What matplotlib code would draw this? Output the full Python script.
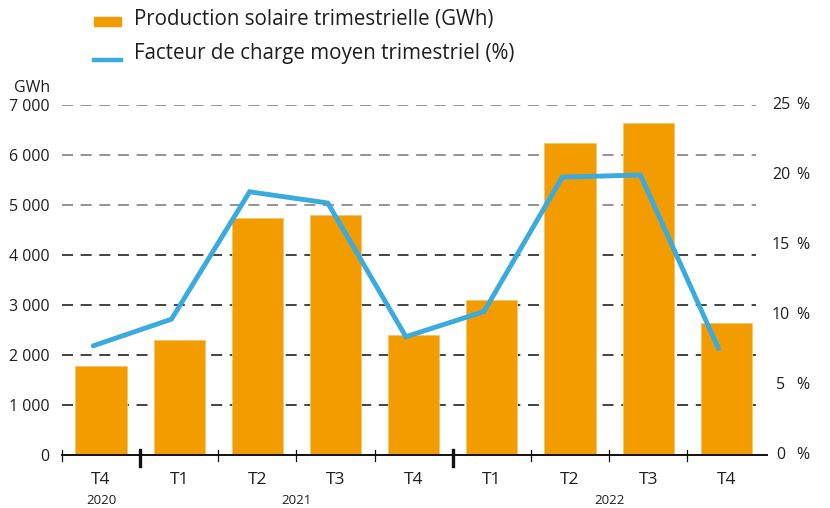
import matplotlib
matplotlib.use("Agg")
import matplotlib.pyplot as plt
from matplotlib.lines import Line2D
from matplotlib.patches import Rectangle
import matplotlib.transforms as mtransforms

# Quarterly data
quarters = ["T4", "T1", "T2", "T3", "T4", "T1", "T2", "T3", "T4"]
years = ["2020", "2021", "2022"]
year_groups = [(0, 0), (1, 4), (5, 8)]
production_gwh = [1790, 2300, 4750, 4810, 2410, 3110, 6250, 6650, 2650]
load_factor_pct = [7.8, 9.7, 18.8, 18.0, 8.45, 10.25, 19.85, 20.0, 7.6]

left_ticks = [0, 1000, 2000, 3000, 4000, 5000, 6000, 7000]
left_labels = ["0", "1 000", "2 000", "3 000", "4 000", "5 000", "6 000", "7 000"]
right_ticks = [0, 5, 10, 15, 20, 25]

ORANGE = "#F39C00"
BLUE = "#3AAADF"
TEXT = "#1E1E1E"

plt.rcParams["font.family"] = ["Open Sans", "DejaVu Sans"]

W, H = 830, 508
fig = plt.figure(figsize=(W / 100, H / 100), dpi=100)

def fx(px):
    return px / W

def fy(py):
    return 1 - py / H

ax = fig.add_axes([fx(62), fy(455), fx(767) - fx(62), fy(105) - fy(455)])
ax2 = ax.twinx()

x = list(range(len(quarters)))
ax.bar(x, production_gwh, width=0.655, color=ORANGE, edgecolor="#F7C46A",
       linewidth=0.6, zorder=2)

ax.set_xlim(-0.5, 8.52)
ax.set_ylim(0, 7000)
ax2.set_ylim(0, 25)

# dashed grid lines
for v in left_ticks[1:]:
    col = "#777777" if v >= 5000 else "#111111"
    ax.axhline(v, xmax=0.985, color=col, lw=1.1, ls=(0, (7.2, 5.0)), zorder=1)

# baseline
ax.axhline(0, color="#111111", lw=1.4, zorder=3, clip_on=False)

# load factor line (right axis)
xl = [i - 0.1 for i in x]
ax2.plot(xl, load_factor_pct, color=BLUE, lw=3.5, solid_joinstyle="miter",
         solid_capstyle="round", zorder=4)

for a in (ax, ax2):
    for s in a.spines.values():
        s.set_visible(False)

ax.set_yticks(left_ticks)
ax.set_yticklabels(left_labels)
ax.tick_params(axis="y", length=0, pad=9, labelsize=11.5, labelcolor=TEXT)
ax2.set_yticks(right_ticks)
ax2.set_yticklabels([])
ax2.tick_params(axis="y", length=0)

tr2 = mtransforms.blended_transform_factory(fig.transFigure, ax2.transData)
for v in right_ticks:
    ax2.text(fx(781), v, str(v), transform=tr2, ha="center", va="center",
             fontsize=11.5, color=TEXT)
    ax2.text(fx(803), v, "%", transform=tr2, ha="center", va="center",
             fontsize=11.5, color=TEXT)

# category ticks and labels
ax.set_xticks(x)
ax.set_xticklabels(quarters)
ax.tick_params(axis="x", length=0, pad=12, labelsize=12.5, labelcolor=TEXT)

trx = mtransforms.blended_transform_factory(ax.transData, ax.transAxes)
for b in [-0.5, 1.5, 2.5, 3.5, 5.5, 6.5, 7.5]:
    ax.add_line(Line2D([b, b], [-0.017, 0.014], transform=trx, color="#111111",
                       lw=0.9, clip_on=False, zorder=3))
for b in [0.5, 4.5]:
    ax.add_line(Line2D([b, b], [-0.03, 0.014], transform=trx, color="#111111",
                       lw=2.4, clip_on=False, zorder=3))

for yr, (a, b) in zip(years, year_groups):
    ax.text((a + b) / 2, fy(500), yr,
            transform=mtransforms.blended_transform_factory(ax.transData, fig.transFigure),
            ha="center", va="center", fontsize=9.5, color=TEXT)

fig.text(fx(32), fy(88), "GWh", ha="center", va="center", fontsize=11.5, color=TEXT)

# legend
fig.patches.append(Rectangle((fx(94), fy(26)), fx(121) - fx(94), fy(17) - fy(26),
                             transform=fig.transFigure, color=ORANGE))
fig.text(fx(134), fy(20), "Production solaire trimestrielle (GWh)", ha="left",
         va="center", fontsize=14.8, color=TEXT)
fig.lines.append(Line2D([fx(94), fx(121)], [fy(60), fy(60)], transform=fig.transFigure,
                        color=BLUE, lw=3.2))
fig.text(fx(134), fy(53), "Facteur de charge moyen trimestriel (%)", ha="left",
         va="center", fontsize=14.8, color=TEXT)

fig.savefig("out.png", dpi=100)
